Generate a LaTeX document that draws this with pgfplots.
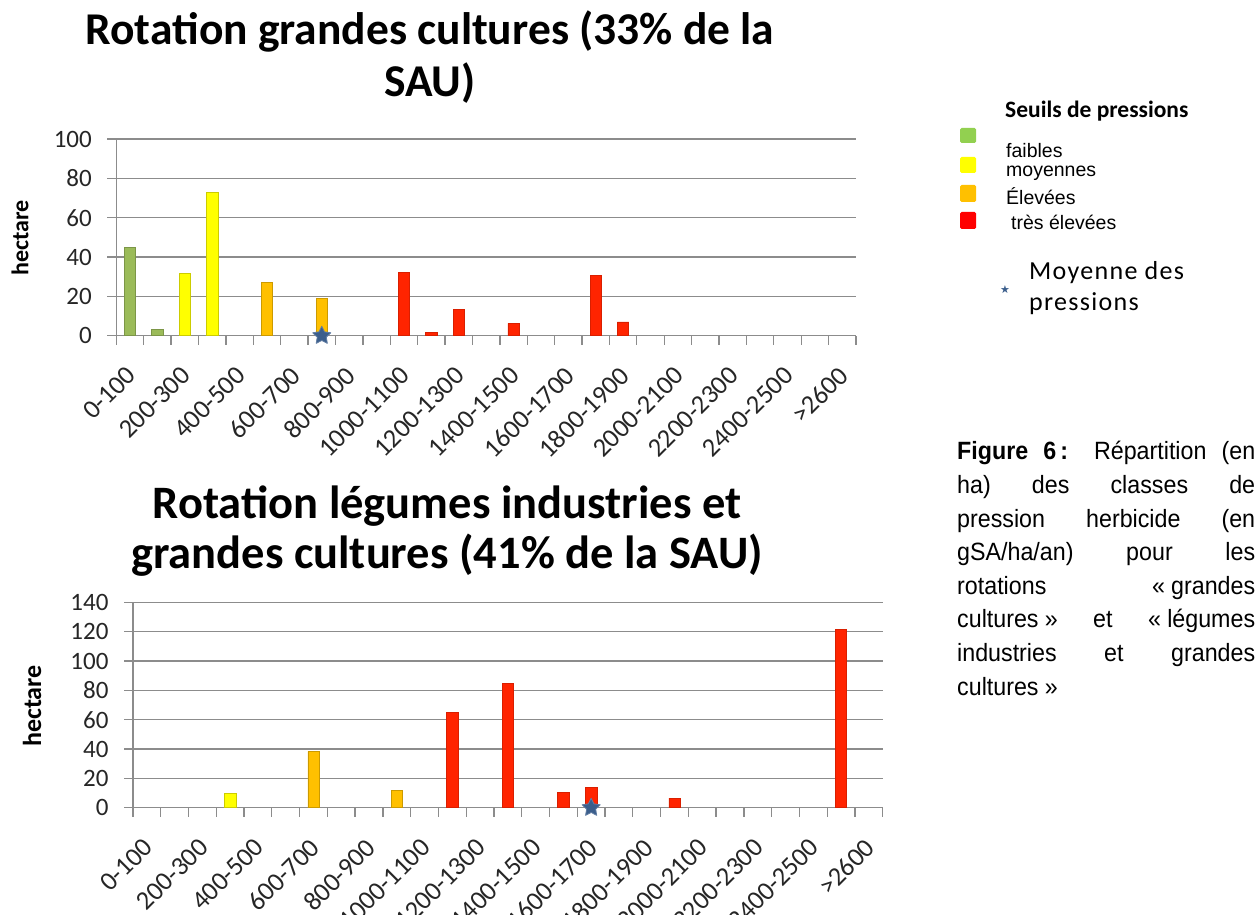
\documentclass[border=0pt]{standalone}
\usepackage{pgfplots}
\pgfplotsset{compat=1.18}
\usepackage{fontspec}
\setmainfont{Carlito}
\newfontfamily\arialf{Liberation Sans}
\newfontfamily\arialn[FakeStretch=0.93]{Liberation Sans}
\newfontfamily\dejavu{DejaVu Sans}
\definecolor{cgreen}{HTML}{9BBB59}
\definecolor{cyellow}{HTML}{FFFF00}
\definecolor{corange}{HTML}{FFC000}
\definecolor{cred}{HTML}{FF2400}
\definecolor{lgreen}{HTML}{92D050}
\definecolor{lred}{HTML}{FF0000}
\definecolor{cstar}{HTML}{3B5E8C}
\definecolor{axgray}{HTML}{8C8C8C}
\pgfdeclareplotmark{fstar}{%
  \pgfpathmoveto{\pgfpointpolar{90}{\pgfplotmarksize}}%
  \pgfpathlineto{\pgfpointpolar{126}{0.5\pgfplotmarksize}}%
  \pgfpathlineto{\pgfpointpolar{162}{\pgfplotmarksize}}%
  \pgfpathlineto{\pgfpointpolar{198}{0.5\pgfplotmarksize}}%
  \pgfpathlineto{\pgfpointpolar{234}{\pgfplotmarksize}}%
  \pgfpathlineto{\pgfpointpolar{270}{0.5\pgfplotmarksize}}%
  \pgfpathlineto{\pgfpointpolar{306}{\pgfplotmarksize}}%
  \pgfpathlineto{\pgfpointpolar{342}{0.5\pgfplotmarksize}}%
  \pgfpathlineto{\pgfpointpolar{18}{\pgfplotmarksize}}%
  \pgfpathlineto{\pgfpointpolar{54}{0.5\pgfplotmarksize}}%
  \pgfpathclose
  \pgfusepathqfillstroke}
\pgfplotsset{
  hist/.style={
    scale only axis, clip=false,
    xmin=-0.5, xmax=26.5, ymin=0,
    axis lines*=left,
    axis line style={draw=axgray, line width=1.3pt},
    ymajorgrids, grid style={draw=axgray, line width=1.3pt},
    xtick={0,2,...,26},
    xticklabels={0-100,200-300,400-500,600-700,800-900,1000-1100,1200-1300,1400-1500,1600-1700,1800-1900,2000-2100,2200-2300,2400-2500,>2600},
    minor xtick={-0.5,0.5,...,26.5},
    tick align=outside,
    major tick length=9pt, minor tick length=9pt,
    tick style={draw=axgray, line width=1.3pt},
    major x tick style={draw=none},
    tick label style={text=black!85},
    xticklabel style={font=\fontsize{26.5}{26.5}\selectfont, inner sep=0pt, yshift=-20pt, xshift=-5pt, rotate=45, anchor=north east},
    yticklabel style={font=\fontsize{25}{25}\selectfont, xshift=-12pt},
    /pgf/number format/assume math mode=true,
    ybar, bar width=11.3pt, bar shift=0pt,
  },
  gb/.style={fill=cgreen, draw=cgreen!80!black, line width=0.6pt},
  yb/.style={fill=cyellow, draw=cyellow!80!black, line width=0.6pt},
  ob/.style={fill=corange, draw=corange!80!black, line width=0.6pt},
  rb/.style={fill=cred, draw=cred!85!black, line width=0.6pt},
  st/.style={only marks, mark=fstar, mark size=9.5pt, mark options={fill=cstar, draw=cstar!80!white, line width=0.8pt, line join=round}},
}
\begin{document}
\begin{tikzpicture}
\path[use as bounding box] (0pt,0pt) rectangle (1260pt,914pt);
% ---------- top chart ----------
\begin{axis}[hist, at={(116.3pt,578.3pt)}, anchor=south west,
  width=739.7pt, height=196.7pt, ymax=100, ytick={0,20,...,100}]
\addplot[gb] coordinates {(0,45) (1,3.2)};
\addplot[yb] coordinates {(2,31.5) (3,72.8)};
\addplot[ob] coordinates {(5,27.2) (7,18.8)};
\addplot[rb] coordinates {(10,32) (11,1.6) (12,13.4) (14,6.3) (17,30.8) (18,7)};
\addplot[st] coordinates {(7,0)};
\end{axis}
% ---------- bottom chart ----------
\begin{axis}[hist, at={(133pt,106.3pt)}, anchor=south west,
  width=749.7pt, height=205.4pt, ymax=140, ytick={0,20,...,140}]
\addplot[yb] coordinates {(3,9.8)};
\addplot[ob] coordinates {(6,38.4) (9,11.8)};
\addplot[rb] coordinates {(11,65.2) (13,84.5) (15,10.5) (16,13.9) (19,6.6) (25,121.6)};
\addplot[st] coordinates {(16,0)};
\end{axis}
% ---------- titles ----------
\node[align=center, font=\fontsize{45.5}{52}\selectfont\bfseries] at (430pt,857pt)
  {Rotation grandes cultures (33\% de la\\SAU)};
\node[align=center, font=\fontsize{46.5}{50}\selectfont\bfseries] at (447pt,383pt)
  {Rotation légumes industries et\\grandes cultures (41\% de la SAU)};
\node[rotate=90, font=\fontsize{24}{24}\selectfont\bfseries] at (20pt,676pt) {hectare};
\node[rotate=90, font=\fontsize{26}{26}\selectfont\bfseries] at (32pt,208pt) {hectare};
% ---------- legend ----------
\node[anchor=west, inner sep=0pt, font=\fontsize{23.5}{23.5}\selectfont\bfseries] at (1005pt,803pt) {Seuils de pressions};
\fill[lgreen, rounded corners=1.5pt] (960pt,771pt) rectangle (976pt,786pt);
\fill[cyellow, rounded corners=1.5pt] (960pt,741pt) rectangle (976pt,757pt);
\fill[corange, rounded corners=1.5pt] (960pt,712pt) rectangle (976pt,729pt);
\fill[lred, rounded corners=1.5pt] (960pt,685pt) rectangle (976pt,702pt);
\node[anchor=west, inner sep=0pt, font=\arialf\fontsize{19.5}{19.5}\selectfont] at (1006pt,763pt) {faibles};
\node[anchor=west, inner sep=0pt, font=\arialf\fontsize{19.5}{19.5}\selectfont] at (1006pt,741pt) {moyennes};
\node[anchor=west, inner sep=0pt, font=\arialf\fontsize{19.5}{19.5}\selectfont] at (1006pt,718pt) {Élevées};
\node[anchor=west, inner sep=0pt, font=\arialf\fontsize{19.5}{19.5}\selectfont] at (1011pt,692pt) {très élevées};
\node[text=cstar, inner sep=0pt, font=\dejavu\fontsize{11}{11}\selectfont] at (1005pt,624pt) {★};
\node[anchor=west, inner sep=0pt, align=left, font=\fontsize{26}{30.5}\selectfont\addfontfeature{LetterSpace=5}] at (1029pt,626pt) {Moyenne des\\pressions};
% ---------- caption ----------
\node[anchor=base west, inner sep=0pt] at (957pt,454pt) {\parbox[t]{298pt}{\arialn\fontsize{25}{33.6}\selectfont\parindent=0pt
\textbf{Figure 6\,:} Répartition (en\linebreak
ha) des classes de\linebreak
pression herbicide (en\linebreak
gSA/ha/an) pour les\linebreak
rotations «\hspace{0.25em}grandes\linebreak
cultures\hspace{0.25em}» et «\hspace{0.25em}légumes\linebreak
industries et grandes\linebreak
cultures\hspace{0.25em}»}};
\end{tikzpicture}
\end{document}
